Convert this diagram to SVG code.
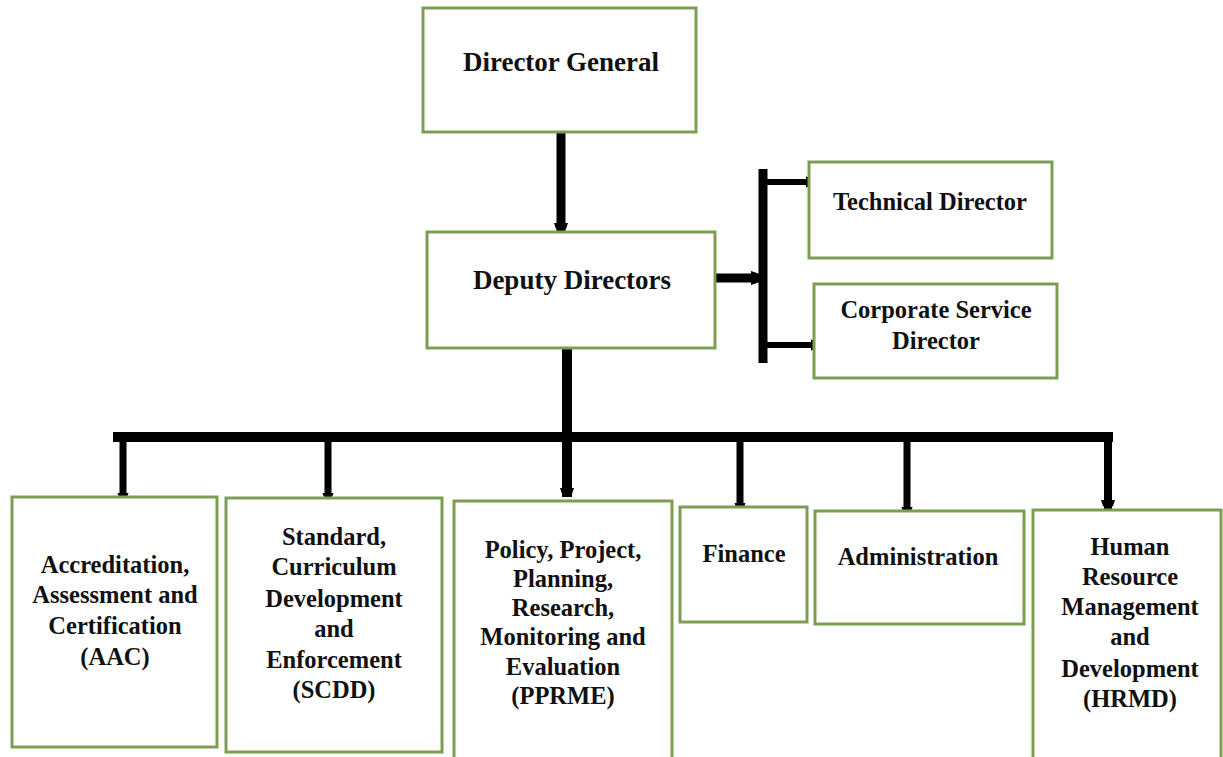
<svg xmlns="http://www.w3.org/2000/svg" width="1223" height="757" viewBox="0 0 1223 757">
<style>
.box{fill:#ffffff;stroke:#7c9e52;stroke-width:3}
.t{font-family:"Liberation Serif","Times New Roman",serif;font-weight:bold;fill:#111111;text-anchor:middle}
.big{font-size:27px}
.sm{font-size:24.5px}
.c{stroke:#000000;fill:none;stroke-linecap:butt}
</style>
<defs>
<marker id="ah" markerUnits="userSpaceOnUse" markerWidth="20" markerHeight="20" refX="9" refY="0" viewBox="-2 -10 14 20" orient="auto">
<path d="M0,-7 L6,-5 L9,0 L6,5 L0,7 Z" fill="#000"/>
</marker>
<marker id="dot" markerUnits="userSpaceOnUse" markerWidth="14" markerHeight="14" refX="4" refY="0" viewBox="-5 -7 14 14" orient="auto">
<path d="M0,-5.5 L3,-4.5 L5,0 L3,4.5 L0,5.5 Z" fill="#000"/>
</marker>
</defs>
<rect width="1223" height="757" fill="#ffffff"/>
<g id="connectors">
<line class="c" x1="561" y1="133" x2="561" y2="232" stroke-width="9" marker-end="url(#ah)"/>
<line class="c" x1="716" y1="278" x2="760" y2="278" stroke-width="9" marker-end="url(#ah)"/>
<line class="c" x1="763" y1="169" x2="763" y2="363" stroke-width="9"/>
<line class="c" x1="763" y1="182" x2="810" y2="182" stroke-width="6" marker-end="url(#dot)"/>
<line class="c" x1="763" y1="345" x2="815" y2="345" stroke-width="6" marker-end="url(#dot)"/>
<line class="c" x1="567" y1="349" x2="567" y2="497" stroke-width="10" marker-end="url(#ah)"/>
<line class="c" x1="113" y1="437" x2="1113" y2="437" stroke-width="10"/>
<line class="c" x1="123" y1="437" x2="123" y2="497" stroke-width="7" marker-end="url(#dot)"/>
<line class="c" x1="328" y1="437" x2="328" y2="497" stroke-width="7" marker-end="url(#dot)"/>
<line class="c" x1="740" y1="437" x2="740" y2="507" stroke-width="7" marker-end="url(#dot)"/>
<line class="c" x1="907" y1="437" x2="907" y2="511" stroke-width="7" marker-end="url(#dot)"/>
<line class="c" x1="1108" y1="437" x2="1108" y2="509" stroke-width="8" marker-end="url(#ah)"/>
</g>
<g id="director-general">
<rect class="box" x="423" y="8" width="273" height="124"/>
<text class="t big" x="561" y="71">Director General</text>
</g>
<g id="deputy-directors">
<rect class="box" x="427" y="232" width="288" height="116"/>
<text class="t big" x="572" y="289">Deputy Directors</text>
</g>
<g id="technical-director">
<rect class="box" x="809" y="162" width="243" height="96"/>
<text class="t sm" x="930" y="210">Technical Director</text>
</g>
<g id="corporate-service-director">
<rect class="box" x="814" y="284" width="243" height="94"/>
<text class="t sm" x="936" y="318">Corporate Service</text>
<text class="t sm" x="936" y="349">Director</text>
</g>
<g id="aac">
<rect class="box" x="12" y="497" width="205" height="250"/>
<text class="t sm" x="115" y="573">Accreditation,</text>
<text class="t sm" x="115" y="603">Assessment and</text>
<text class="t sm" x="115" y="634">Certification</text>
<text class="t sm" x="115" y="665">(AAC)</text>
</g>
<g id="scdd">
<rect class="box" x="226" y="498" width="216" height="254"/>
<text class="t sm" x="334" y="545">Standard,</text>
<text class="t sm" x="334" y="575">Curriculum</text>
<text class="t sm" x="334" y="607">Development</text>
<text class="t sm" x="334" y="637">and</text>
<text class="t sm" x="334" y="668">Enforcement</text>
<text class="t sm" x="334" y="698">(SCDD)</text>
</g>
<g id="pprme">
<rect class="box" x="454" y="501" width="218" height="270"/>
<text class="t sm" x="563" y="558">Policy, Project,</text>
<text class="t sm" x="563" y="587">Planning,</text>
<text class="t sm" x="563" y="616">Research,</text>
<text class="t sm" x="563" y="645">Monitoring and</text>
<text class="t sm" x="563" y="675">Evaluation</text>
<text class="t sm" x="563" y="704">(PPRME)</text>
</g>
<g id="finance">
<rect class="box" x="680" y="507" width="127" height="115"/>
<text class="t sm" x="744" y="562">Finance</text>
</g>
<g id="administration">
<rect class="box" x="815" y="511" width="209" height="113"/>
<text class="t sm" x="918" y="565">Administration</text>
</g>
<g id="hrmd">
<rect class="box" x="1033" y="510" width="188" height="260"/>
<text class="t sm" x="1130" y="555">Human</text>
<text class="t sm" x="1130" y="585">Resource</text>
<text class="t sm" x="1130" y="615">Management</text>
<text class="t sm" x="1130" y="645">and</text>
<text class="t sm" x="1130" y="677">Development</text>
<text class="t sm" x="1130" y="707">(HRMD)</text>
</g>
</svg>
